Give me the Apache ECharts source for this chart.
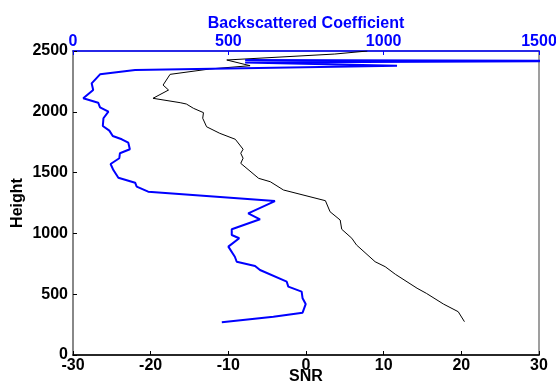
<!DOCTYPE html>
<html>
<head>
<meta charset="utf-8">
<script src="https://cdn.jsdelivr.net/npm/echarts@6/dist/echarts.min.js"></script>
<style>
  html, body { margin: 0; padding: 0; background: #fff; }
  #chart { width: 556px; height: 390px; }
</style>
</head>
<body>
<div id="chart"></div>
<script>
// SNR profile (bottom axis) against height
const snrValues = [20.4, 19.6, 17.7, 15.5, 14.3, 11.5, 10.2, 8.9, 6.5, 5.9, 4.6, 4.4, 3.1, 2.5,
  -2.9, -4.6, -6.1, -8.4, -8.1, -8.4, -8.1, -9.1, -11.1, -12.8, -13.3, -13.2, -14.5, -15.4, -16.2,
  -19.7, -17.7, -18.4, -17.5, -12.4, -7.2, -10.2, 3.7, 7.9];
const snrHeights = [274, 356, 419, 507, 549, 664, 726, 767, 905, 960, 1034, 1110, 1178, 1269,
  1357, 1425, 1453, 1576, 1618, 1659, 1692, 1774, 1823, 1877, 1947, 1993, 2029, 2064, 2075,
  2111, 2179, 2220, 2308, 2352, 2379, 2426, 2475, 2500];

// Backscattered coefficient profile (top axis) against height
const bscValues = [479, 645, 739, 749, 739, 736, 693, 688, 602, 586, 527, 521, 500, 535, 511, 511,
  602, 564, 650, 242, 205, 200, 146, 130, 121, 149, 151, 183, 178, 157, 128, 117, 96, 98, 114,
  87, 81, 33, 65, 60, 87, 200, 1043, 554, 1700, 554];
const bscHeights = [269, 315, 348, 419, 466, 521, 562, 603, 699, 732, 767, 808, 891, 960, 987, 1034,
  1116, 1165, 1266, 1343, 1384, 1417, 1458, 1521, 1571, 1618, 1659, 1692, 1746, 1774, 1801, 1845, 1883, 1947, 2001,
  2037, 2075, 2111, 2179, 2234, 2308, 2344, 2379, 2405, 2418, 2426];

const snrTicks = { min: -30, max: 30, step: 10 };
const bscTicks = { min: 0, max: 1500, step: 500 };
const heightTicks = { min: 0, max: 2500, step: 500 };

const zip = (xs, ys) => xs.map((x, i) => [x, ys[i]]);
const plain = v => String(v);

const FONT = '"Liberation Sans", Arial, Helvetica, sans-serif';
const BLUE = '#0000ff';
const GRAY = '#808080';

const chart = echarts.init(document.getElementById('chart'), null, { renderer: 'canvas' });

chart.setOption({
  animation: false,
  backgroundColor: '#ffffff',
  grid: {
    left: 73, right: 17, top: 51, bottom: 35,
    containLabel: false, outerBoundsMode: 'none',
    show: true, borderColor: GRAY, borderWidth: 1.5, backgroundColor: 'transparent'
  },
  xAxis: [
    {
      type: 'value', position: 'bottom',
      min: snrTicks.min, max: snrTicks.max, interval: snrTicks.step,
      name: 'SNR', nameLocation: 'middle', nameGap: 14, nameMoveOverlap: false,
      nameTextStyle: { fontFamily: FONT, fontWeight: 'bold', fontSize: 16, color: '#000' },
      axisLine: { show: true, onZero: false, lineStyle: { color: '#000', width: 1.5 } },
      axisTick: { show: true, inside: true, length: 4, lineStyle: { color: '#000' } },
      axisLabel: { margin: 3, formatter: plain, fontFamily: FONT, fontWeight: 'bold', fontSize: 16, color: '#000' },
      splitLine: { show: false }
    },
    {
      type: 'value', position: 'top',
      min: bscTicks.min, max: bscTicks.max, interval: bscTicks.step,
      name: 'Backscattered Coefficient', nameLocation: 'middle', nameGap: 19, nameMoveOverlap: false,
      nameTextStyle: { fontFamily: FONT, fontWeight: 'bold', fontSize: 16, color: BLUE },
      axisLine: { show: true, onZero: false, lineStyle: { color: BLUE, width: 1.5 } },
      axisTick: { show: true, inside: true, length: 4, lineStyle: { color: BLUE } },
      axisLabel: { margin: 1, formatter: plain, fontFamily: FONT, fontWeight: 'bold', fontSize: 16, color: BLUE },
      splitLine: { show: false }
    }
  ],
  yAxis: {
    type: 'value',
    min: heightTicks.min, max: heightTicks.max, interval: heightTicks.step,
    name: 'Height', nameLocation: 'middle', nameGap: 47, nameMoveOverlap: false,
    nameTextStyle: { fontFamily: FONT, fontWeight: 'bold', fontSize: 16, color: '#000' },
    axisLine: { show: true, onZero: false, lineStyle: { color: GRAY, width: 1.5 } },
    axisTick: { show: true, inside: true, length: 4, lineStyle: { color: '#000' } },
    axisLabel: { margin: 5, formatter: plain, fontFamily: FONT, fontWeight: 'bold', fontSize: 16, color: '#000' },
    splitLine: { show: false }
  },
  series: [
    {
      name: 'SNR', type: 'line', xAxisIndex: 0, yAxisIndex: 0,
      data: zip(snrValues, snrHeights),
      showSymbol: false, smooth: false, clip: true,
      lineStyle: { color: '#000', width: 1 }
    },
    {
      name: 'Backscattered Coefficient', type: 'line', xAxisIndex: 1, yAxisIndex: 0,
      data: zip(bscValues, bscHeights),
      showSymbol: false, smooth: false, clip: true,
      lineStyle: { color: BLUE, width: 2 }
    }
  ]
});
</script>
</body>
</html>
